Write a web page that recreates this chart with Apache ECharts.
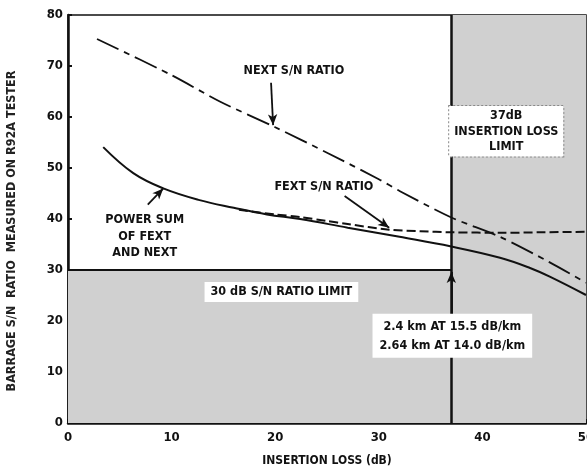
<!DOCTYPE html>
<html>
<head>
<meta charset="utf-8">
<script src="https://cdn.jsdelivr.net/npm/echarts@6/dist/echarts.min.js"></script>
<style>
html,body{margin:0;padding:0;background:#fff;}
#chart{width:587px;height:469px;}
</style>
</head>
<body>
<div id="chart"></div>
<script>
// Data
var nextSN = [[2.8,75.3],[10,68.2],[14.7,63.0],[20,58.0],[25,53.0],[30,47.8],[32,45.5],[37,40.3],[41.7,36.5],[46.5,31.5],[50,27.5]];
var fextSN = [[16.5,41.8],[20,40.9],[22.4,40.4],[25,39.6],[27,39.0],[31,37.9],[34,37.6],[37,37.4],[42,37.3],[46,37.4],[50,37.5]];
var powerSum = [[3.4,54.1],[6.3,49.0],[9.2,46.0],[12.7,43.7],[16,42.2],[19.2,40.9],[22.4,40.0],[27,38.3],[32,36.5],[37,34.6],[41.7,32.4],[44.6,30.4],[46.5,28.7],[50,25.1]];
var snLimit = 30;          // dB S/N ratio limit
var lossLimit = 37;        // dB insertion loss limit
var xTicks = [0,10,20,30,40,50];
var yTicks = [0,10,20,30,40,50,60,70,80];

var FONT = '"Liberation Sans Narrow","DejaVu Sans Condensed","Arial Narrow",sans-serif';

function label(x, y, text, opts) {
  opts = opts || {};
  return {
    coord: [x, y], symbol: 'rect', symbolSize: 0,
    label: Object.assign({
      show: true, position: 'inside', formatter: text,
      fontFamily: FONT, fontWeight: 'bold', fontSize: 12.5, color: '#111',
      lineHeight: opts.lh || 16, align: 'center', verticalAlign: 'middle'
    }, opts.box ? {backgroundColor: '#fff', padding: opts.pad || [3,7,3,7], borderColor: opts.border || 'transparent', borderType: 'dotted', borderWidth: opts.border ? 1 : 0} : {})
  };
}
function arrow(x1, y1, x2, y2) {
  return [{coord: [x1, y1]}, {coord: [x2, y2]}];
}

var chart = echarts.init(document.getElementById('chart'), null, {renderer: 'canvas'});
chart.setOption({
  animation: false,
  backgroundColor: '#fff',
  grid: {left: 68, right: 1, top: 15, bottom: 46, outerBoundsMode: 'none', containLabel: false,
    show: true, borderColor: '#111', borderWidth: 1.5, backgroundColor: 'transparent'},
  xAxis: {
    type: 'value', min: 0, max: 50, interval: 10,
    name: 'INSERTION LOSS (dB)', nameLocation: 'middle', nameGap: 32,
    nameTextStyle: {fontFamily: FONT, fontWeight: 'bold', fontSize: 12, color: '#111'},
    axisLine: {show: true, lineStyle: {color: '#111', width: 2.5}},
    axisTick: {show: true, inside: true, length: 4, lineStyle: {color: '#111', width: 2}},
    axisLabel: {fontFamily: FONT, fontWeight: 'bold', fontSize: 13, color: '#111', margin: 8,
      formatter: function (v) { return xTicks.indexOf(v) >= 0 ? String(v) : ''; }},
    splitLine: {show: false}
  },
  yAxis: {
    type: 'value', min: 0, max: 80, interval: 10,
    name: 'BARRAGE S/N  RATIO  MEASURED ON R92A TESTER', nameLocation: 'middle', nameGap: 50,
    nameTextStyle: {fontFamily: FONT, fontWeight: 'bold', fontSize: 12.5, color: '#222', padding: [0, 24, 0, 0]},
    axisLine: {show: true, lineStyle: {color: '#111', width: 2.5}},
    axisTick: {show: true, inside: true, length: 4, lineStyle: {color: '#111', width: 2}},
    axisLabel: {fontFamily: FONT, fontWeight: 'bold', fontSize: 13, color: '#111', margin: 5,
      formatter: function (v) { return yTicks.indexOf(v) >= 0 ? String(v) : ''; }},
    splitLine: {show: false}
  },
  series: [
    {
      name: 'limits', type: 'line', data: [], silent: true,
      markArea: {
        silent: true,
        itemStyle: {color: '#d0d0d0'},
        data: [
          [{xAxis: 0, yAxis: 0}, {xAxis: 50, yAxis: snLimit}],
          [{xAxis: lossLimit, yAxis: snLimit}, {xAxis: 50, yAxis: 80}]
        ]
      },
      markLine: {
        silent: true, symbol: 'none', animation: false,
        label: {show: false},
        data: [
          [{coord: [lossLimit, 0], lineStyle: {color: '#111', width: 2.5, type: 'solid'}}, {coord: [lossLimit, 80]}],
          [{coord: [0, snLimit], lineStyle: {color: '#111', width: 2, type: 'solid'}}, {coord: [lossLimit, snLimit]}]
        ]
      }
    },
    {
      name: 'NEXT S/N RATIO', type: 'line', data: nextSN, showSymbol: false, smooth: 0.3,
      lineStyle: {color: '#111', width: 1.8, type: [24, 6, 6, 6]}
    },
    {
      name: 'FEXT S/N RATIO', type: 'line', data: fextSN, showSymbol: false, smooth: 0.3,
      lineStyle: {color: '#111', width: 2, type: [9, 4]}
    },
    {
      name: 'POWER SUM', type: 'line', data: powerSum, showSymbol: false, smooth: 0.4,
      lineStyle: {color: '#111', width: 2, type: 'solid'},
      markLine: {
        silent: true, symbol: ['none', 'arrow'], symbolSize: [7, 11],
        label: {show: false},
        lineStyle: {color: '#111', width: 1.8, type: 'solid'},
        data: [
          arrow(19.6, 66.7, 19.8, 58.4),
          arrow(26.7, 44.5, 31.0, 38.3),
          arrow(7.7, 42.8, 9.2, 46.0),
          arrow(37, 20.8, 37, 29.6)
        ]
      },
      markPoint: {
        silent: true,
        data: [
          label(21.8, 69.0, 'NEXT S/N RATIO'),
          label(24.7, 46.3, 'FEXT S/N RATIO'),
          label(7.4, 36.6, 'POWER SUM\nOF FEXT\nAND NEXT', {lh: 16.5}),
          label(20.6, 25.7, '30 dB S/N RATIO LIMIT', {box: true, pad: [2, 6, 2, 6]}),
          label(42.3, 57.2, '37dB\nINSERTION LOSS\nLIMIT', {box: true, border: '#888', pad: [2, 5, 2, 5], lh: 15.5}),
          label(37.1, 17.1, '2.4 km AT 15.5 dB/km\n2.64 km AT 14.0 dB/km', {box: true, pad: [3, 7, 3, 7], lh: 19})
        ]
      }
    }
  ]
});
</script>
</body>
</html>
